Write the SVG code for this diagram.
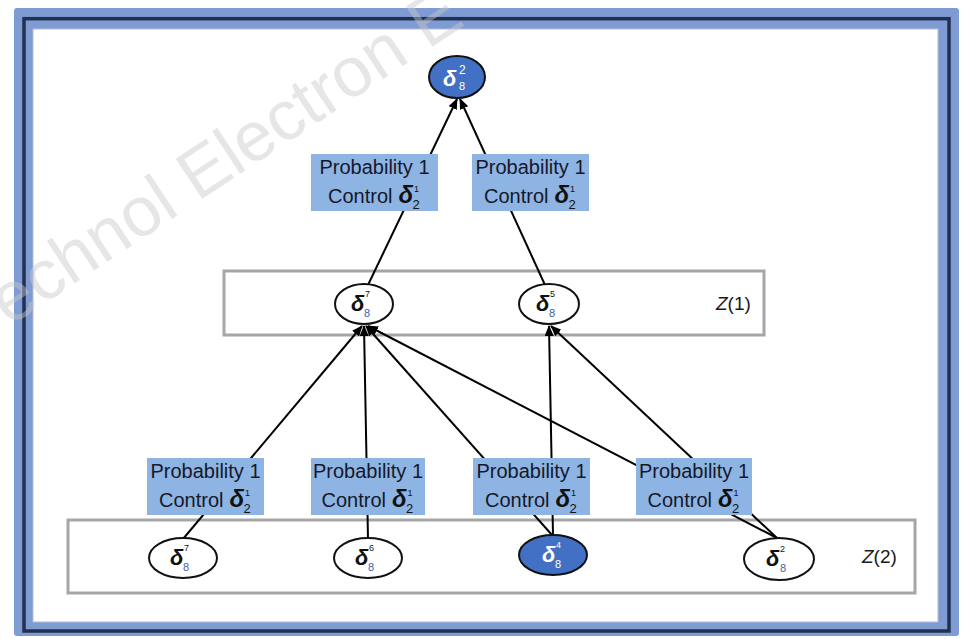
<svg xmlns="http://www.w3.org/2000/svg" width="965" height="639" viewBox="0 0 965 639">
  <style>
    .frame-band { fill: #7f9bd4; }
    .frame-line { fill: none; stroke: #22304f; stroke-width: 3.5; }
    .canvas { fill: #ffffff; stroke: #b4bcd9; stroke-width: 1; }
    .zbox { fill: none; stroke: #a6a6a6; stroke-width: 3; }
    .ztxt { font-family: "Liberation Sans", Arial, sans-serif; font-size: 19px; fill: #1a1a1a; }
    .node { fill: #ffffff; stroke: #111111; stroke-width: 2; }
    .node.on { fill: #4270c4; }
    .lbl { fill: #8db4e2; }
    .lt { font-family: "Liberation Sans", Arial, sans-serif; font-size: 20px; fill: #16182a; }
    .dl { font-family: "Liberation Sans", Arial, sans-serif; font-weight: bold; font-style: italic; font-size: 22px; fill: #111111; }
    .dlab { font-family: "Liberation Sans", Arial, sans-serif; font-weight: bold; font-style: italic; font-size: 24px; fill: #111111; }
    .sup { font-family: "Liberation Sans", Arial, sans-serif; font-size: 9px; fill: #111111; }
    .sub { font-family: "Liberation Sans", Arial, sans-serif; font-size: 13px; fill: #111111; }
    .sub8 { font-family: "Liberation Sans", Arial, sans-serif; font-size: 11px; fill: #3f5fa8; }
    .on-t { fill: #ffffff; }
    .edge { stroke: #000000; stroke-width: 2; fill: none; marker-end: url(#arr); }
    .wm { font-family: "Liberation Sans", Arial, sans-serif; font-size: 70px; fill: #c8c8c8; opacity: 0.45; }
  </style>
  <defs>
    <marker id="arr" markerUnits="userSpaceOnUse" markerWidth="11" markerHeight="9" refX="10" refY="4.5" orient="auto">
      <path d="M0,0 L11,4.5 L0,9 z" fill="#000000"/>
    </marker>
  </defs>

  <!-- page frame -->
  <rect class="frame-band" x="14" y="8" width="945" height="628" rx="3"/>
  <rect class="frame-line" x="24" y="18.7" width="925" height="612.3"/>
  <rect class="canvas" x="33" y="29" width="905" height="593"/>

  <!-- level boxes -->
  <g id="z1">
    <rect class="zbox" x="224" y="271" width="540" height="64"/>
    <text class="ztxt" x="716" y="310"><tspan font-style="italic">Z</tspan>(1)</text>
  </g>
  <g id="z2">
    <rect class="zbox" x="68" y="520" width="847" height="73"/>
    <text class="ztxt" x="862" y="563"><tspan font-style="italic">Z</tspan>(2)</text>
  </g>

  <!-- connectors -->
  <g id="connectors">
    <line class="edge" x1="368" y1="285" x2="457" y2="99"/>
    <line class="edge" x1="545" y1="285" x2="460" y2="99"/>
    <line class="edge" x1="183" y1="539" x2="362" y2="326"/>
    <line class="edge" x1="368" y1="539" x2="364" y2="326"/>
    <line class="edge" x1="552" y1="535" x2="366" y2="326"/>
    <line class="edge" x1="553" y1="535" x2="549" y2="326"/>
    <line class="edge" x1="777" y1="538" x2="368" y2="326"/>
    <line class="edge" x1="777" y1="538" x2="551" y2="326"/>
  </g>

  <!-- transition labels -->
  <g id="label-top-left">
    <rect class="lbl" x="311" y="154" width="127" height="57"/>
    <text class="lt" x="374.5" y="174" text-anchor="middle">Probability 1</text>
    <text class="lt" x="328" y="203">Control</text>
    <text class="dlab" x="398.5" y="203">δ</text>
    <text class="sup" x="414" y="192">1</text>
    <text class="sub" x="412.5" y="209">2</text>
  </g>
  <g id="label-top-right">
    <rect class="lbl" x="472" y="154" width="117" height="57"/>
    <text class="lt" x="530.5" y="174" text-anchor="middle">Probability 1</text>
    <text class="lt" x="484" y="203">Control</text>
    <text class="dlab" x="554.5" y="203">δ</text>
    <text class="sup" x="570" y="192">1</text>
    <text class="sub" x="568.5" y="209">2</text>
  </g>
  <g id="label-b1">
    <rect class="lbl" x="147" y="458" width="117" height="57"/>
    <text class="lt" x="205.5" y="478" text-anchor="middle">Probability 1</text>
    <text class="lt" x="159" y="507">Control</text>
    <text class="dlab" x="229.5" y="507">δ</text>
    <text class="sup" x="245" y="496">1</text>
    <text class="sub" x="243.5" y="513">2</text>
  </g>
  <g id="label-b2">
    <rect class="lbl" x="311" y="458" width="114" height="57"/>
    <text class="lt" x="368" y="478" text-anchor="middle">Probability 1</text>
    <text class="lt" x="321.5" y="507">Control</text>
    <text class="dlab" x="392" y="507">δ</text>
    <text class="sup" x="407.5" y="496">1</text>
    <text class="sub" x="406" y="513">2</text>
  </g>
  <g id="label-b3">
    <rect class="lbl" x="473" y="458" width="117" height="57"/>
    <text class="lt" x="531.5" y="478" text-anchor="middle">Probability 1</text>
    <text class="lt" x="485" y="507">Control</text>
    <text class="dlab" x="555.5" y="507">δ</text>
    <text class="sup" x="571" y="496">1</text>
    <text class="sub" x="569.5" y="513">2</text>
  </g>
  <g id="label-b4">
    <rect class="lbl" x="636" y="458" width="116" height="57"/>
    <text class="lt" x="694" y="478" text-anchor="middle">Probability 1</text>
    <text class="lt" x="647.5" y="507">Control</text>
    <text class="dlab" x="718" y="507">δ</text>
    <text class="sup" x="733.5" y="496">1</text>
    <text class="sub" x="732" y="513">2</text>
  </g>

  <!-- states -->
  <g id="n-top">
    <ellipse class="node on" cx="457" cy="77" rx="28" ry="21"/>
    <text class="dl on-t" x="443" y="86">δ</text>
    <text class="on-t" x="459" y="74" font-family="Liberation Sans, Arial, sans-serif" font-size="12">2</text>
    <text class="on-t" x="459" y="90" font-family="Liberation Sans, Arial, sans-serif" font-size="11">8</text>
  </g>
  <g id="n-z1-7">
    <ellipse class="node" cx="364" cy="304" rx="29" ry="20"/>
    <text class="dl" x="351" y="311">δ</text>
    <text class="sup" x="365" y="297">7</text>
    <text class="sub8" x="364" y="317">8</text>
  </g>
  <g id="n-z1-5">
    <ellipse class="node" cx="549" cy="304" rx="30" ry="20"/>
    <text class="dl" x="536" y="311">δ</text>
    <text class="sup" x="550" y="297">5</text>
    <text class="sub8" x="549" y="317">8</text>
  </g>
  <g id="n-z2-7">
    <ellipse class="node" cx="183" cy="558" rx="34" ry="20"/>
    <text class="dl" x="170" y="565">δ</text>
    <text class="sup" x="184" y="551">7</text>
    <text class="sub8" x="183" y="571">8</text>
  </g>
  <g id="n-z2-6">
    <ellipse class="node" cx="368" cy="558" rx="34" ry="20"/>
    <text class="dl" x="355" y="565">δ</text>
    <text class="sup" x="369" y="551">6</text>
    <text class="sub8" x="368" y="571">8</text>
  </g>
  <g id="n-z2-4">
    <ellipse class="node on" cx="553" cy="555" rx="34" ry="20"/>
    <text class="dl on-t" x="542" y="562">δ</text>
    <text class="sup on-t" x="556" y="548">4</text>
    <text class="on-t" x="555" y="568" font-family="Liberation Sans, Arial, sans-serif" font-size="11">8</text>
  </g>
  <g id="n-z2-2">
    <ellipse class="node" cx="779" cy="559" rx="35" ry="21"/>
    <text class="dl" x="766" y="566">δ</text>
    <text class="sup" x="780" y="552" font-size="11">2</text>
    <text class="sub8" x="780" y="572">8</text>
  </g>

  <!-- publisher watermark -->
  <text class="wm" x="-20" y="346" transform="rotate(-33.5 -20 346)">Technol Electron E</text>
</svg>
